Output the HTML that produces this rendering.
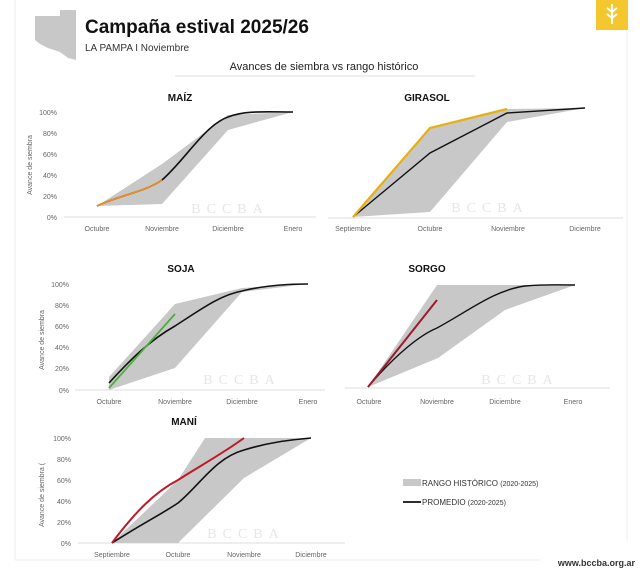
<!DOCTYPE html>
<html><head><meta charset="utf-8"><style>
body{margin:0;background:#fff;}
svg{display:block;font-family:"Liberation Sans",sans-serif;}
</style></head><body>
<svg width="640" height="569" viewBox="0 0 640 569">
<rect width="640" height="569" fill="#fff"/>
<line x1="15" y1="0" x2="15" y2="560" stroke="#eee"/>
<line x1="15" y1="560" x2="540" y2="560" stroke="#eee"/>
<line x1="627" y1="0" x2="627" y2="540" stroke="#eee"/>
<!-- map -->
<path d="M35 16 L60 16 L60 10 L76 10 L76 60 L68 58 L60 52 L48 48 L40 44 L35 40 Z" fill="#c8c8c8"/>
<text x="85" y="33" font-size="19" font-weight="bold" fill="#111">Campaña estival 2025/26</text>
<text x="85" y="51" font-size="10" fill="#333">LA PAMPA I Noviembre</text>
<text x="324" y="70" font-size="11" fill="#222" text-anchor="middle">Avances de siembra vs rango histórico</text>
<line x1="175" y1="76" x2="475" y2="76" stroke="#ddd"/>
<rect x="596" y="0" width="32" height="30" fill="#f5c72e"/>
<path d="M612 4 V24 M612 12 l-5 -4 M612 12 l5 -4 M612 18 l-5 -4 M612 18 l5 -4" stroke="#fff" stroke-width="2" fill="none"/>

<g font-size="7" fill="#666">
<!-- MAIZ -->
<text x="180" y="101" font-size="10" font-weight="bold" fill="#111" text-anchor="middle">MAÍZ</text>
<g text-anchor="end"><text x="57" y="115">100%</text><text x="57" y="136">80%</text><text x="57" y="157">60%</text><text x="57" y="178">40%</text><text x="57" y="199">20%</text><text x="57" y="220">0%</text></g>
<text transform="translate(32,165) rotate(-90)" text-anchor="middle">Avance de siembra</text>
<line x1="64" y1="217" x2="316" y2="217" stroke="#ddd"/>
<polygon points="97,206 162,164 228,115 293,112 228,130 162,204" fill="#c8c8c8"/>
<text x="230" y="213" font-size="14" fill="#e6e6e6" font-family="Liberation Serif" text-anchor="middle" letter-spacing="6">BCCBA</text>
<path d="M97,206 C120,195 145,192 162,180 C185,160 205,125 228,117 C245,110 270,112 293,112" stroke="#111" stroke-width="1.6" fill="none"/>
<path d="M97,206 C120,195 145,192 162,180" stroke="#f0901e" stroke-width="1.6" fill="none"/>
<g text-anchor="middle"><text x="97" y="231">Octubre</text><text x="162" y="231">Noviembre</text><text x="228" y="231">Diciembre</text><text x="293" y="231">Enero</text></g>

<!-- GIRASOL -->
<text x="427" y="101" font-size="10" font-weight="bold" fill="#111" text-anchor="middle">GIRASOL</text>
<line x1="328" y1="218" x2="623" y2="218" stroke="#ddd"/>
<polygon points="353,217 430,128 507,109 585,108 507,122 430,212" fill="#c8c8c8"/>
<text x="490" y="212" font-size="14" fill="#e6e6e6" font-family="Liberation Serif" text-anchor="middle" letter-spacing="6">BCCBA</text>
<polyline points="353,217 430,153 507,113 585,108" stroke="#111" stroke-width="1.4" fill="none"/>
<polyline points="353,217 430,128 507,109" stroke="#e8b00e" stroke-width="2.2" fill="none"/>
<g text-anchor="middle"><text x="353" y="231">Septiembre</text><text x="430" y="231">Octubre</text><text x="508" y="231">Noviembre</text><text x="585" y="231">Diciembre</text></g>

<!-- SOJA -->
<text x="181" y="272" font-size="10" font-weight="bold" fill="#111" text-anchor="middle">SOJA</text>
<g text-anchor="end"><text x="69" y="287">100%</text><text x="69" y="308">80%</text><text x="69" y="329">60%</text><text x="69" y="350">40%</text><text x="69" y="371">20%</text><text x="69" y="393">0%</text></g>
<text transform="translate(44,340) rotate(-90)" text-anchor="middle">Avance de siembra</text>
<line x1="75" y1="390" x2="325" y2="390" stroke="#ddd"/>
<polygon points="109,377 175,304 242,288 308,284 242,292 175,368 109,390" fill="#c8c8c8"/>
<text x="242" y="384" font-size="14" fill="#e6e6e6" font-family="Liberation Serif" text-anchor="middle" letter-spacing="6">BCCBA</text>
<path d="M109,383 C130,360 150,340 175,326 C200,310 220,295 242,291 C262,286 285,284 308,284" stroke="#111" stroke-width="1.6" fill="none"/>
<line x1="109" y1="388" x2="175" y2="314" stroke="#4caf3a" stroke-width="1.8"/>
<g text-anchor="middle"><text x="109" y="404">Octubre</text><text x="175" y="404">Noviembre</text><text x="242" y="404">Diciembre</text><text x="308" y="404">Enero</text></g>

<!-- SORGO -->
<text x="427" y="272" font-size="10" font-weight="bold" fill="#111" text-anchor="middle">SORGO</text>
<line x1="345" y1="388" x2="610" y2="388" stroke="#ddd"/>
<polygon points="368,387 437,285 575,285 505,310 438,358" fill="#c8c8c8"/>
<text x="520" y="384" font-size="14" fill="#e6e6e6" font-family="Liberation Serif" text-anchor="middle" letter-spacing="6">BCCBA</text>
<path d="M368,387 C395,355 420,335 437,328 C470,310 495,290 525,286 C550,284 565,285 575,285" stroke="#111" stroke-width="1.4" fill="none"/>
<line x1="368" y1="387" x2="437" y2="300" stroke="#9b1c2c" stroke-width="2"/>
<g text-anchor="middle"><text x="369" y="404">Octubre</text><text x="437" y="404">Noviembre</text><text x="505" y="404">Diciembre</text><text x="573" y="404">Enero</text></g>

<!-- MANI -->
<text x="184" y="425" font-size="10" font-weight="bold" fill="#111" text-anchor="middle">MANÍ</text>
<g text-anchor="end"><text x="71" y="441">100%</text><text x="71" y="462">80%</text><text x="71" y="483">60%</text><text x="71" y="504">40%</text><text x="71" y="525">20%</text><text x="71" y="546">0%</text></g>
<text transform="translate(44,495) rotate(-90)" text-anchor="middle">Avance de siembra (</text>
<line x1="78" y1="543" x2="345" y2="543" stroke="#ddd"/>
<polygon points="112,543 178,480 205,438 311,438 244,478 178,543" fill="#c8c8c8"/>
<text x="246" y="538" font-size="14" fill="#e6e6e6" font-family="Liberation Serif" text-anchor="middle" letter-spacing="6">BCCBA</text>
<path d="M112,543 C140,525 160,515 178,503 C200,485 215,458 244,450 C270,442 290,440 311,438" stroke="#111" stroke-width="1.6" fill="none"/>
<path d="M112,543 C135,512 155,492 178,480 C200,466 225,452 244,438" stroke="#c0182a" stroke-width="2" fill="none"/>
<g text-anchor="middle"><text x="112" y="557">Septiembre</text><text x="178" y="557">Octubre</text><text x="244" y="557">Noviembre</text><text x="311" y="557">Diciembre</text></g>
</g>

<!-- legend -->
<rect x="403" y="479" width="18" height="7" fill="#c8c8c8"/>
<text x="422" y="486" font-size="8" fill="#333">RANGO HISTÓRICO <tspan font-size="7">(2020-2025)</tspan></text>
<line x1="403" y1="502" x2="421" y2="502" stroke="#111" stroke-width="1.8"/>
<text x="422" y="505" font-size="8" fill="#333">PROMEDIO <tspan font-size="7">(2020-2025)</tspan></text>
<text x="635" y="566" font-size="9" font-weight="bold" fill="#333" text-anchor="end">www.bccba.org.ar</text>
</svg>
</body></html>
